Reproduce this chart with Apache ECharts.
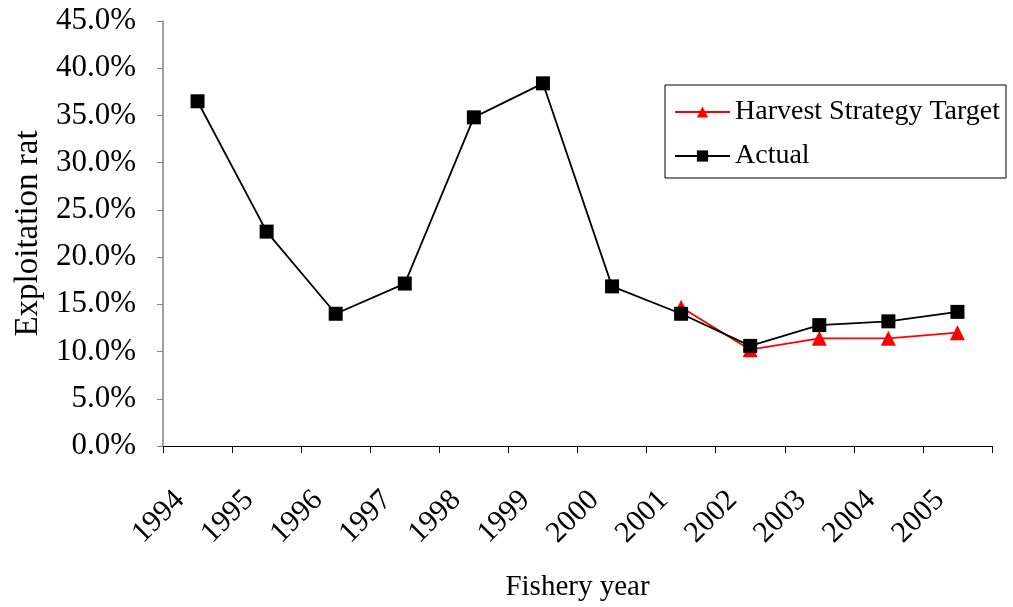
<!DOCTYPE html>
<html><head><meta charset="utf-8">
<script src="https://cdn.jsdelivr.net/npm/echarts@6/dist/echarts.min.js"></script>
<style>html,body{margin:0;padding:0;background:#fff}#c{width:1013px;height:607px}</style>
</head><body><div id="c"></div>
<script>
var years = ['1994','1995','1996','1997','1998','1999','2000','2001','2002','2003','2004','2005'];
var target = [null,null,null,null,null,null,null,14.7,10.2,11.4,11.4,12.0];
var actual = [36.5,22.7,14.0,17.2,34.8,38.4,16.9,14.0,10.6,12.8,13.2,14.2];
var font = 'Liberation Serif';
var chart = echarts.init(document.getElementById('c'));
chart.setOption({
  animation:false,
  backgroundColor:'#fff',
  grid:{left:163,right:21,top:21,bottom:161,outerBoundsMode:'none',containLabel:false},
  legend:{
    orient:'vertical', left:665, top:85,
    width:343, padding:[13,6,8,9], itemGap:16,
    borderColor:'#000', borderWidth:1,
    itemWidth:55, itemHeight:14,
    textStyle:{fontFamily:font,fontSize:28,color:'#000'},
    data:['Harvest Strategy Target','Actual']
  },
  xAxis:{
    type:'category', data:years, boundaryGap:true,
    name:'Fishery year', nameLocation:'middle', nameGap:127,
    nameTextStyle:{fontFamily:font,fontSize:29,color:'#000'},
    axisLine:{lineStyle:{color:'#000',width:1}},
    axisTick:{show:true,length:7,lineStyle:{color:'#000'}},
    axisLabel:{rotate:45,margin:32,padding:[0,25,0,0],fontFamily:font,fontSize:30,color:'#000'}
  },
  yAxis:{
    type:'value', min:0, max:45, interval:5,
    name:'Exploitation rat', nameLocation:'middle', nameGap:118,
    nameTextStyle:{fontFamily:font,fontSize:33,color:'#000'},
    axisLine:{show:true,lineStyle:{color:'#808080',width:1.5}},
    axisTick:{show:true,length:6,lineStyle:{color:'#808080'}},
    splitLine:{show:false},
    axisLabel:{margin:27,fontFamily:font,fontSize:31,color:'#000',formatter:function(v){return v.toFixed(1)+'%';}}
  },
  series:[
    {name:'Harvest Strategy Target',type:'line',data:target,symbol:'triangle',symbolSize:15,
     itemStyle:{color:'#ff0000'},lineStyle:{color:'#ff0000',width:1.8},connectNulls:false},
    {name:'Actual',type:'line',data:actual,symbol:'rect',symbolSize:14,
     itemStyle:{color:'#000'},lineStyle:{color:'#000',width:1.8}}
  ]
});
</script></body></html>
